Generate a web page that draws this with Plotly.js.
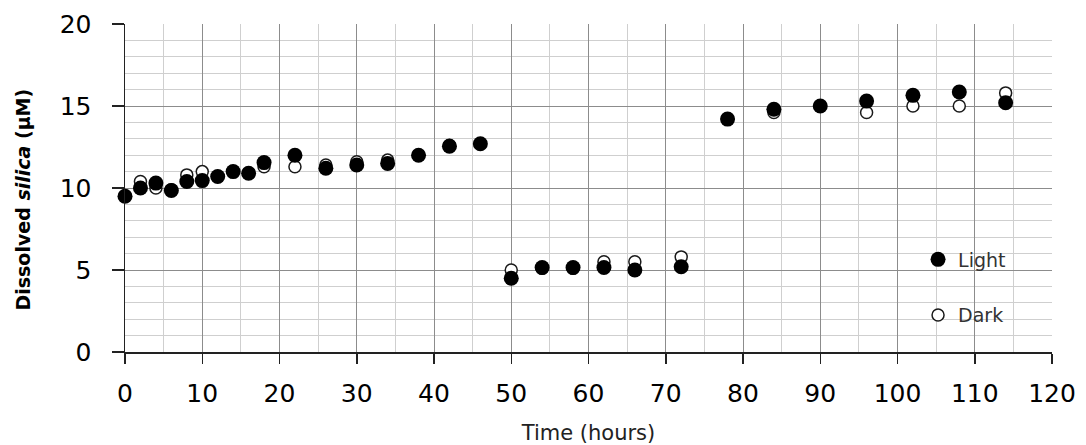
<!DOCTYPE html>
<html>
<head>
<meta charset="utf-8">
<script src="https://cdn.plot.ly/plotly-3.0.1.min.js"></script>
<style>
html,body{margin:0;padding:0;background:#fff;}
#chart{width:1086px;height:445px;}
</style>
</head>
<body>
<div id="chart"></div>
<script>
// Time in hours
var timeHours = [0, 2, 4, 6, 8, 10, 12, 14, 16, 18, 22, 26, 30, 34, 38, 42, 46, 50, 54, 58, 62, 66, 72, 78, 84, 90, 96, 102, 108, 114];
// Dissolved silica (µM), Light treatment
var lightSilica = [9.5, 10.0, 10.3, 9.85, 10.4, 10.45, 10.7, 11.0, 10.9, 11.55, 12.0, 11.2, 11.4, 11.5, 12.0, 12.55, 12.7, 4.5, 5.15, 5.15, 5.15, 5.0, 5.2, 14.2, 14.8, 15.0, 15.3, 15.65, 15.85, 15.2];
// Dissolved silica (µM), Dark treatment
var darkSilica = [9.5, 10.4, 10.0, 9.9, 10.8, 11.0, 10.7, 11.0, 10.9, 11.3, 11.3, 11.4, 11.6, 11.7, 12.0, 12.6, 12.7, 5.0, 5.1, 5.1, 5.5, 5.5, 5.8, 14.2, 14.6, 15.0, 14.6, 15.0, 15.0, 15.8];
var seriesNames = ["Light", "Dark"];
var xTitle = "Time (hours)";
var yTitle = "Dissolved <i>silica</i> (µM)";

var FONT = '"DejaVu Sans", Verdana, sans-serif';

var darkTrace = {
  x: timeHours, y: darkSilica, name: seriesNames[1],
  type: 'scatter', mode: 'markers', legendgroup: 'd', legendrank: 2,
  marker: {symbol: 'circle', size: 12, color: '#ffffff', line: {color: '#1a1a1a', width: 1.5}},
  cliponaxis: false
};
var lightTrace = {
  x: timeHours, y: lightSilica, name: seriesNames[0],
  type: 'scatter', mode: 'markers', legendgroup: 'l', legendrank: 1,
  marker: {symbol: 'circle', size: 15, color: '#000000', line: {width: 0}},
  cliponaxis: false
};

var layout = {
  width: 1086, height: 445,
  margin: {l: 124.5, r: 34, t: 24, b: 93, pad: 0},
  paper_bgcolor: '#ffffff', plot_bgcolor: '#ffffff',
  font: {family: FONT, color: '#000'},
  showlegend: true,
  legend: {
    x: 0.8555, xanchor: 'left', y: 0.34, yanchor: 'top',
    bgcolor: 'rgba(0,0,0,0)', borderwidth: 0,
    font: {family: FONT, size: 19, color: '#333'},
    tracegroupgap: 28, traceorder: 'grouped'
  },
  xaxis: {
    range: [0, 120], dtick: 10, tick0: 0,
    showline: true, linecolor: '#222', linewidth: 1.5,
    ticks: 'outside', ticklen: 10, tickwidth: 1.5, tickcolor: '#222',
    ticklabelstandoff: 8,
    tickfont: {family: FONT, size: 25, color: '#000'},
    showgrid: true, gridcolor: '#8c8c8c', gridwidth: 1,
    minor: {dtick: 5, showgrid: true, gridcolor: '#cfcfcf', gridwidth: 1, ticks: ''},
    zeroline: false,
    title: {text: xTitle, font: {family: FONT, size: 21, color: '#222'}, standoff: 21}
  },
  yaxis: {
    range: [0, 20], dtick: 5, tick0: 0,
    showline: true, linecolor: '#222', linewidth: 1.5,
    ticks: 'outside', ticklen: 12, tickwidth: 1.5, tickcolor: '#222',
    ticklabelstandoff: 15,
    tickfont: {family: FONT, size: 25, color: '#000'},
    showgrid: true, gridcolor: '#8c8c8c', gridwidth: 1,
    minor: {dtick: 1, showgrid: true, gridcolor: '#cfcfcf', gridwidth: 1, ticks: ''},
    zeroline: false
  },
  annotations: [{
    text: '<b>' + yTitle + '</b>', textangle: -90,
    xref: 'paper', yref: 'paper', x: -0.1105, y: 0.4634,
    xanchor: 'center', yanchor: 'middle', showarrow: false,
    font: {family: FONT, size: 19, color: '#000'}
  }]
};

Plotly.newPlot('chart', [darkTrace, lightTrace], layout, {displayModeBar: false, staticPlot: true});
</script>
</body>
</html>
